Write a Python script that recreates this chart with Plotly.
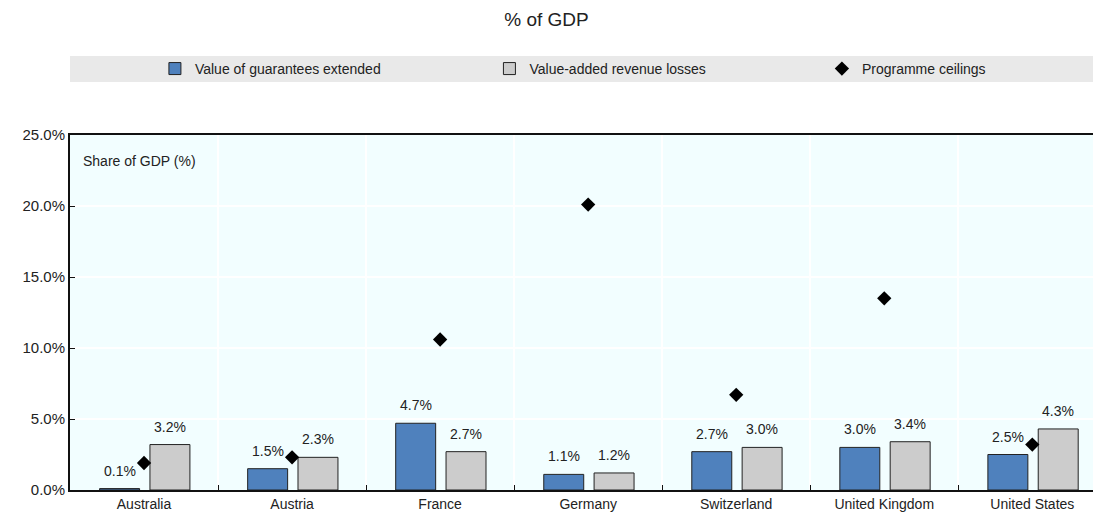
import plotly.graph_objects as go

countries = ["Australia", "Austria", "France", "Germany", "Switzerland", "United Kingdom", "United States"]
guarantees = [0.1, 1.5, 4.7, 1.1, 2.7, 3.0, 2.5]
revenue_losses = [3.2, 2.3, 2.7, 1.2, 3.0, 3.4, 4.3]
ceilings = [1.9, 2.3, 10.6, 20.1, 6.7, 13.5, 3.2]
y_ticks = [0, 5, 10, 15, 20, 25]

FONT = "Liberation Sans, Arial, sans-serif"
BLUE = "#4F81BD"
GREY = "#CCCCCC"

fig = go.Figure()
fig.add_trace(go.Bar(
    x=countries, y=guarantees, name="Value of guarantees extended",
    marker=dict(color=BLUE, line=dict(color="#222222", width=1)),
    width=0.27, offset=-0.30, legend="legend",
))
fig.add_trace(go.Bar(
    x=countries, y=revenue_losses, name="Value-added revenue losses",
    marker=dict(color=GREY, line=dict(color="#222222", width=1)),
    width=0.27, offset=0.04, legend="legend2",
))
fig.add_trace(go.Scatter(
    x=countries, y=ceilings, name="Programme ceilings", mode="markers",
    marker=dict(symbol="diamond", color="black", size=11), legend="legend3",
))

annotations = []
for i, (g, r) in enumerate(zip(guarantees, revenue_losses)):
    annotations.append(dict(x=i - 0.165, y=g, xref="x", yref="y", text=f"{g:.1f}%",
                            showarrow=False, yanchor="bottom", yshift=8,
                            font=dict(size=14, color="#222222", family=FONT)))
    annotations.append(dict(x=i + 0.175, y=r, xref="x", yref="y", text=f"{r:.1f}%",
                            showarrow=False, yanchor="bottom", yshift=8,
                            font=dict(size=14, color="#222222", family=FONT)))
annotations.append(dict(x=0.011, y=0.955, xref="paper", yref="paper", text="Share of GDP (%)",
                        showarrow=False, xanchor="left", yanchor="top",
                        font=dict(size=14, color="#222222", family=FONT)))

legend_common = dict(orientation="h", xanchor="left", y=1.186, yanchor="middle",
                     bgcolor="rgba(0,0,0,0)", itemwidth=30,
                     font=dict(size=14, family=FONT, color="#222222"))

fig.update_layout(
    width=1093, height=514,
    margin=dict(l=70, r=0, t=135, b=24),
    paper_bgcolor="white",
    plot_bgcolor="#F2FEFF",
    font=dict(family=FONT, size=14, color="#222222"),
    title=dict(text="% of GDP", x=0.5, xanchor="center", y=0.962, yanchor="middle",
               font=dict(size=19, family=FONT, color="#222222")),
    barmode="group",
    showlegend=True,
    legend=dict(x=0.083, **legend_common),
    legend2=dict(x=0.410, **legend_common),
    legend3=dict(x=0.735, **legend_common),
    shapes=[dict(type="rect", xref="paper", yref="paper", x0=0.0, x1=1.0,
                 y0=1.149, y1=1.2225, fillcolor="#E9E9E9", line=dict(width=0), layer="below")],
    annotations=annotations,
)
fig.update_xaxes(
    type="category", range=[-0.5, 6.41], tickson="boundaries",
    showgrid=True, gridcolor="white", gridwidth=1.5,
    showline=True, linecolor="#111111", linewidth=2, mirror=True,
    ticks="inside", ticklen=5, tickcolor="#111111",
    tickfont=dict(size=14, family=FONT),
)
fig.update_yaxes(
    range=[0, 25], tickvals=y_ticks, ticktext=[f"{v:.1f}%" for v in y_ticks],
    showgrid=True, gridcolor="white", gridwidth=1.5, zeroline=False,
    showline=True, linecolor="#111111", linewidth=2,
    ticks="inside", ticklen=5, tickcolor="#111111",
    tickfont=dict(size=15, family=FONT),
)

fig.write_html("out.html")
